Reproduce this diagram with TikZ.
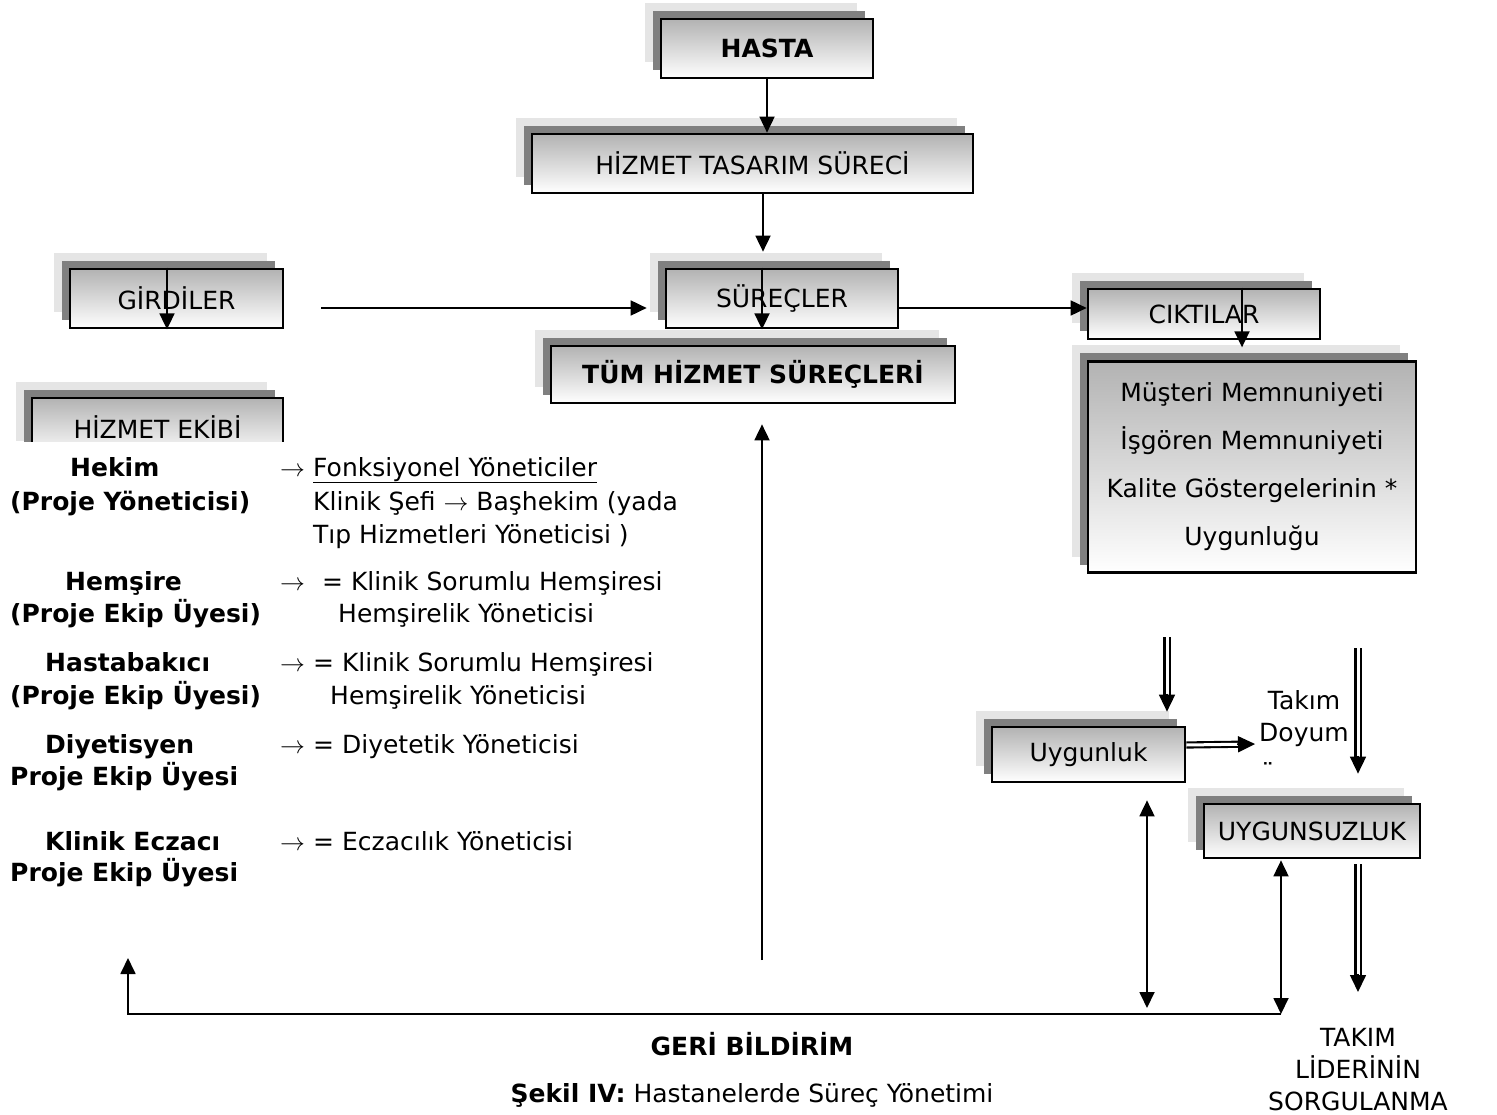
\documentclass[tikz,border=0pt]{standalone}
\usepackage{fontspec}
\setmainfont{DejaVu Sans}
\usetikzlibrary{arrows.meta,shadows,calc}

\tikzset{
  kutu/.style={draw, line width=2.7pt, top color=black!30, bottom color=white, inner sep=0pt,
    general shadow={fill=black!10, shadow xshift=-16pt, shadow yshift=16pt},
    general shadow={fill=black!50, shadow xshift=-8pt, shadow yshift=8pt}},
  ok/.style={line width=1.8pt, -{Triangle[length=16pt,width=15pt]}},
  okiki/.style={line width=1.8pt, {Triangle[length=16pt,width=15pt]}-{Triangle[length=16pt,width=15pt]}},
  cift/.style={double, double distance=3pt, line width=2.1pt},
  uc/.style={line width=1.6pt, -{Triangle[length=17pt,width=16pt]}},
  yazi/.style={anchor=base west, inner sep=0pt},
  kalin/.style={yazi, font=\bfseries},
}
% double shaft + single head
\newcommand{\ciftok}[2]{%
  \draw[cift] (#1) -- ($(#2)!15pt!(#1)$);
  \draw[uc] ($(#2)!18pt!(#1)$) -- (#2);}

\begin{document}
\fontsize{25}{30}\selectfont
\begin{tikzpicture}[x=1pt,y=-1pt]
  \useasboundingbox (0,0) rectangle (1497,1115);

  % boxes
  \node[kutu, minimum width=212pt, minimum height=59pt, font=\bfseries] (hasta) at (767,48.5) {HASTA};
  \node[kutu, minimum width=441pt, minimum height=59pt] (tasarim) at (752.5,163.5) {HİZMET TASARIM SÜRECİ};
  \node[kutu, minimum width=213pt, minimum height=59pt] (girdi) at (176.5,298.5) {GİRDİLER};
  \node[kutu, minimum width=232pt, minimum height=59pt] (surec) at (782,298.5) {SÜREÇLER};
  \node[kutu, minimum width=404pt, minimum height=57pt, font=\bfseries] (tum) at (753,374.5) {TÜM HİZMET SÜREÇLERİ};
  \begin{scope}
    \clip (0,370) rectangle (300,441.5);
    \node[kutu, minimum width=251pt, minimum height=59pt] (ekip) at (157.5,427.5) {HİZMET EKİBİ};
  \end{scope}
  \node[kutu, minimum width=232pt, minimum height=50pt] (cikti) at (1204,314) {CIKTILAR};
  \node[kutu, minimum width=328pt, minimum height=211pt, align=center, font=\fontsize{25}{48}\selectfont] (olcut) at (1252,467)
    {Müşteri Memnuniyeti\\İşgören Memnuniyeti\\Kalite Göstergelerinin *\\Uygunluğu};
  \node[kutu, minimum width=193pt, minimum height=55pt] (uygun) at (1088.5,754.5) {Uygunluk};
  \node[kutu, minimum width=216pt, minimum height=54pt] (uygunsuz) at (1312,831) {UYGUNSUZLUK};

  % free texts
  \node[align=center, font=\fontsize{25}{32}\selectfont, inner sep=0pt] (doyum) at (1304,719) {Takım\\Doyum};
  \begin{scope}
    \clip (1240,752) rectangle (1300,766);
    \node[yazi] (doyumalt) at (1260,781) {ü};
  \end{scope}
  \node[align=center, font=\fontsize{25}{32}\selectfont, inner sep=0pt] (lider) at (1358,1070) {TAKIM\\LİDERİNİN\\SORGULANMA};
  \node[font=\bfseries] (geri) at (752,1044) {GERİ BİLDİRİM};
  \node (sekil) at (752,1095) {\textbf{Şekil IV:} Hastanelerde Süreç Yönetimi};

  % hizmet ekibi list
  \node[kalin] (hekim) at (70,476) {Hekim};
  \node[kalin] (hekimb) at (10,510) {(Proje Yöneticisi)};
  \node[yazi] (ok1) at (280,476) {$\rightarrow$};
  \node[yazi] (fonk) at (313,476) {\underline{Fonksiyonel Yöneticiler}};
  \node[yazi] (sefi) at (313,510) {Klinik Şefi $\rightarrow$ Başhekim (yada};
  \node[yazi] (tip) at (313,543) {Tıp Hizmetleri Yöneticisi )};

  \node[kalin] (hemsire) at (65,590) {Hemşire};
  \node[kalin] (hemsireb) at (10,622) {(Proje Ekip Üyesi)};
  \node[yazi] (ok2) at (280,590) {$\rightarrow$};
  \node[yazi] (ksh1) at (322,590) {= Klinik Sorumlu Hemşiresi};
  \node[yazi] (hy1) at (338,622) {Hemşirelik Yöneticisi};

  \node[kalin] (bakici) at (45,671) {Hastabakıcı};
  \node[kalin] (bakicib) at (10,704) {(Proje Ekip Üyesi)};
  \node[yazi] (ok3) at (280,671) {$\rightarrow$};
  \node[yazi] (ksh2) at (313,671) {= Klinik Sorumlu Hemşiresi};
  \node[yazi] (hy2) at (330,704) {Hemşirelik Yöneticisi};

  \node[kalin] (diyet) at (45,753) {Diyetisyen};
  \node[kalin] (diyetb) at (10,785) {Proje Ekip Üyesi};
  \node[yazi] (ok4) at (280,753) {$\rightarrow$};
  \node[yazi] (dy) at (313,753) {= Diyetetik Yöneticisi};

  \node[kalin] (eczaci) at (45,850) {Klinik Eczacı};
  \node[kalin] (eczacib) at (10,881) {Proje Ekip Üyesi};
  \node[yazi] (ok5) at (280,850) {$\rightarrow$};
  \node[yazi] (ey) at (313,850) {= Eczacılık Yöneticisi};

  % free ends
  \coordinate (girdiok) at ($(girdi.east)+(37,9.5)$);
  \coordinate (merkezalt) at (762,960);
  \coordinate (gbsag) at (1281,1014);
  \coordinate (gbsol) at (128,958);
  \coordinate (uyalt) at (1147,1008);
  \coordinate (c1) at (1167,637);
  \coordinate (c2) at (1358,648);
  \coordinate (c3) at (1358,992);
  \coordinate (d1) at ($(uygun.north)+(78.5,-14)$);
  \coordinate (d2) at ($(uygunsuz.north)+(46,-29)$);
  \coordinate (d3) at ($(uygunsuz.south)+(46,5)$);
  \coordinate (d4a) at ($(uygun.east)+(0,-9.5)$);
  \coordinate (d4b) at ($(uygun.east -| doyum.west)+(-4,-10.5)$);

  % connectors
  \draw[ok] (hasta.south) -- (hasta.south |- tasarim.north);
  \draw[ok] ($(tasarim.south)+(10.5,0)$) -- ($(tasarim.south |- surec.north)+(10.5,-16)$);
  \draw[ok] ($(surec.north)+(-20,0)$) -- ($(surec.south)+(-20,0)$);
  \draw[ok] ($(girdi.north)+(-9.5,0)$) -- ($(girdi.south)+(-9.5,0)$);
  \draw[ok] (girdiok) -- ($(surec.west)+(-18,9.5)$);
  \draw[ok] ($(surec.east)+(0,9.5)$) -- ($(surec.east -| cikti.west)+(0,9.5)$);
  \draw[ok] ($(cikti.north)+(38,0)$) -- ($(cikti.south)+(38,7)$);
  \draw[ok] (merkezalt) -- ($(tum.south)+(9,20)$);
  \draw[ok] (gbsag) -| (gbsol);
  \draw[okiki] (gbsag) -- ($(uygunsuz.south)+(-31,1)$);
  \draw[okiki] (uyalt) -- ($(uygun.south)+(58.5,17)$);
  \ciftok{c1}{d1}
  \ciftok{c2}{d2}
  \ciftok{d3}{c3}
  \ciftok{d4a}{d4b}
\end{tikzpicture}
\end{document}
